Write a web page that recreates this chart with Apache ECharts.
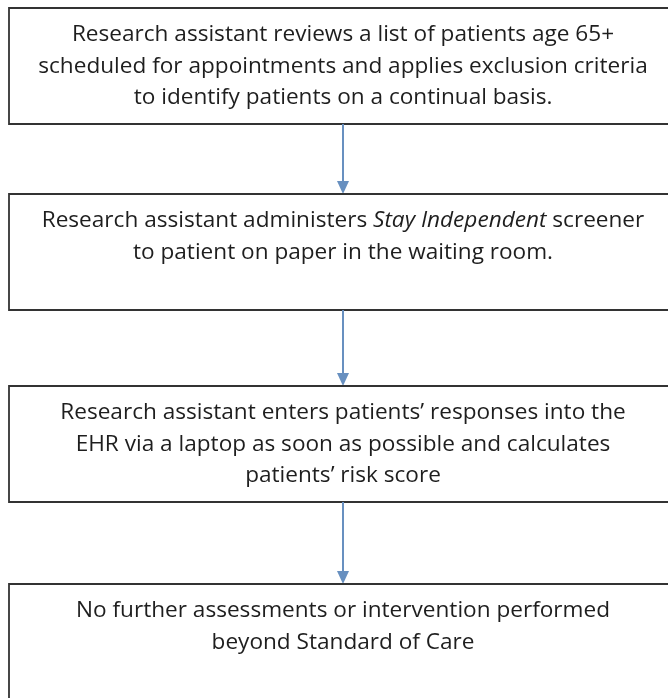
<!DOCTYPE html>
<html>
<head>
<meta charset="utf-8">
<script src="https://cdn.jsdelivr.net/npm/echarts@6/dist/echarts.min.js"></script>
<style>
  html, body { margin: 0; padding: 0; background: #fff; }
  #chart { width: 668px; height: 698px; }
</style>
</head>
<body>
<div id="chart"></div>
<script>
// flow steps, top to bottom ({i|...} = italic run)
const steps = [
    'Research assistant reviews a list of patients age 65+\nscheduled for appointments and applies exclusion criteria\nto identify patients on a continual basis.',
    'Research assistant administers {i|Stay Independent} screener\nto patient on paper in the waiting room.',
    'Research assistant enters patients\u2019 responses into the\nEHR via a laptop as soon as possible and calculates\npatients\u2019 risk score',
    'No further assessments or intervention performed\nbeyond Standard of Care'
]

// layout in page units (same as the 668x698 picture)
const boxTop = [8, 194, 386, 584]
const boxHeight = 116
const boxLeft = 9
const boxRight = 680
const centerX = 343
const firstLine = 27
const lineHeight = 31.5

const chart = echarts.init(document.getElementById('chart'))

const font = 'Open Sans'
const fontSize = 22.6

chart.setOption({
    animation: false,
    grid: { left: 0, right: 0, top: 0, bottom: 0 },
    xAxis: { type: 'value', min: 0, max: 668, show: false },
    yAxis: { type: 'value', min: 0, max: 698, inverse: true, show: false },
    series: [{
        type: 'custom',
        clip: false,
        data: steps.map((t, i) => [i]),
        renderItem(params, api) {
            const i = params.dataIndex
            const top = boxTop[i]
            const p0 = api.coord([boxLeft, top])
            const p1 = api.coord([boxRight, top + boxHeight])
            const tp = api.coord([centerX, top + firstLine])
            const children = [{
                type: 'rect',
                shape: { x: p0[0], y: p0[1], width: p1[0] - p0[0], height: p1[1] - p0[1] },
                style: { fill: '#fff', stroke: '#333', lineWidth: 1.8 }
            }, {
                type: 'text',
                style: {
                    text: steps[i],
                    x: tp[0],
                    y: tp[1] - lineHeight / 2,
                    align: 'center',
                    verticalAlign: 'top',
                    fontFamily: font,
                    fontSize: fontSize,
                    lineHeight: lineHeight,
                    fill: '#1e1e1e',
                    rich: {
                        i: { fontStyle: 'italic', fontFamily: font, fontSize: fontSize, lineHeight: lineHeight, color: '#1e1e1e' }
                    }
                }
            }]
            if (i < steps.length - 1) {
                const a0 = api.coord([centerX, top + boxHeight])
                const a1 = api.coord([centerX, boxTop[i + 1]])
                children.push({
                    type: 'line',
                    shape: { x1: a0[0], y1: a0[1], x2: a1[0], y2: a1[1] - 10 },
                    style: { stroke: '#6890c0', lineWidth: 2 }
                }, {
                    type: 'polygon',
                    shape: { points: [[a1[0] - 6, a1[1] - 13], [a1[0] + 6, a1[1] - 13], [a1[0], a1[1]]] },
                    style: { fill: '#6890c0' }
                })
            }
            return { type: 'group', children }
        }
    }]
})
</script>
</body>
</html>
